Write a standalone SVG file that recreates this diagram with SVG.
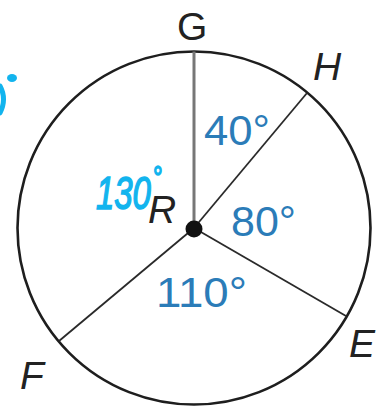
<svg xmlns="http://www.w3.org/2000/svg" width="391" height="409" viewBox="0 0 391 409">
<style>
.pt{font-family:"Liberation Sans",Arial,sans-serif;font-size:39px;fill:#222;font-style:italic}
.ang{font-family:"Liberation Sans",Arial,sans-serif;font-size:43px;fill:#2b7cb8}
.hand{font-family:"Liberation Sans",Arial,sans-serif;fill:#12b4ee;stroke:#12b4ee;stroke-width:1.6;font-style:italic}
.rad{stroke:#2a2a2a;stroke-width:1.8;fill:none}
</style>
<rect width="391" height="409" fill="#fff"/>
<g id="circle">
<circle cx="194" cy="228" r="176.5" fill="none" stroke="#1e1e1e" stroke-width="2.6"/>
</g>
<g id="connectors">
<line x1="194" y1="228" x2="194" y2="51.5" stroke="#777" stroke-width="3"/>
<line class="rad" x1="194" y1="228" x2="307" y2="93"/>
<line class="rad" x1="194" y1="228" x2="346" y2="316"/>
<line class="rad" x1="194" y1="228" x2="59" y2="341"/>
</g>
<g id="R">
<circle cx="194" cy="229" r="8.5" fill="#111"/>
<text class="pt" x="148" y="223">R</text>
</g>
<g id="G"><text class="pt" x="177" y="40" style="font-style:normal">G</text></g>
<g id="H"><text class="pt" x="313" y="80">H</text></g>
<g id="E"><text class="pt" x="349" y="357">E</text></g>
<g id="F"><text class="pt" x="20" y="389">F</text></g>
<g id="labels">
<text class="ang" x="204" y="145" textLength="66" lengthAdjust="spacingAndGlyphs">40°</text>
<text class="ang" x="231" y="236" textLength="65" lengthAdjust="spacingAndGlyphs">80°</text>
<text class="ang" x="156" y="307" textLength="91" lengthAdjust="spacingAndGlyphs">110°</text>
<text class="hand" transform="translate(96,209) scale(0.7,1)" font-size="47">130<tspan dx="2" dy="-20" font-size="34">°</tspan></text>
<ellipse cx="12" cy="78" rx="5" ry="4" fill="#12b4ee"/>
<path d="M0,86 Q7,99 0,113" fill="none" stroke="#12b4ee" stroke-width="5" stroke-linecap="round"/>
</g>
</svg>
